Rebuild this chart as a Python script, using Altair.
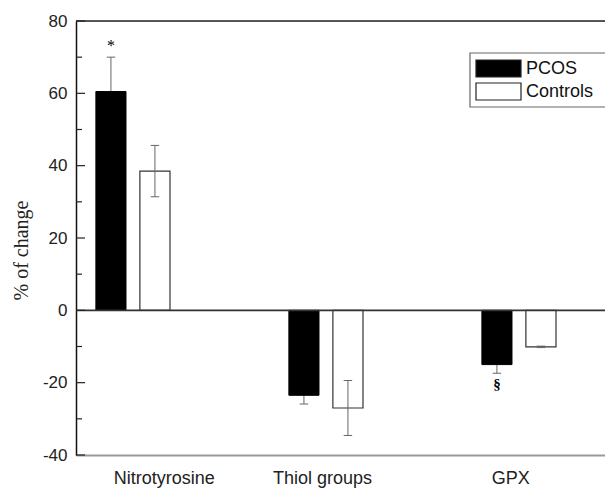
import altair as alt
import pandas as pd

CATEGORIES = ["Nitrotyrosine", "Thiol groups", "GPX"]
SERIES = ["PCOS", "Controls"]
PCOS_VALUES = [60.5, -23.5, -15.0]
PCOS_ERR = [9.5, 2.4, 2.4]
CONTROL_VALUES = [38.5, -27.0, -10.1]
CONTROL_ERR = [7.1, 7.6, 0.2]
PCOS_MARKS = ["*", "", "§"]
Y_TICKS = list(range(-40, 81, 10))
Y_LABELS = list(range(-40, 81, 20))
LABEL_SHIFT = [0.16, -0.02, -0.045]

W, H = 529, 434
BAR_OFF = 0.114
BAR_HALF = 0.078
CAP_HALF = 0.022

rows = []
for i, cat in enumerate(CATEGORIES):
    for s, vals, errs, off in [("PCOS", PCOS_VALUES, PCOS_ERR, -BAR_OFF),
                               ("Controls", CONTROL_VALUES, CONTROL_ERR, BAR_OFF)]:
        c = i + 1 + off
        v = vals[i]
        e = errs[i]
        rows.append(dict(category=cat, series=s, value=v, err=e,
                         center=c, left=c - BAR_HALF, right=c + BAR_HALF,
                         capl=c - CAP_HALF, capr=c + CAP_HALF,
                         lo=v - e, hi=v + e,
                         mark=PCOS_MARKS[i] if s == "PCOS" else ""))
df = pd.DataFrame(rows)

label_pos = [i + 1 + LABEL_SHIFT[i] for i in range(len(CATEGORIES))]
label_map = "{" + ",".join(f"'{p:.3f}':'{c}'" for p, c in zip(label_pos, CATEGORIES)) + "}"

xscale = alt.Scale(domain=[0.705, 0.705 + W / 193.0], nice=False, zero=False)
yscale = alt.Scale(domain=[-40, 80], nice=False)

x_axis = alt.Axis(values=label_pos, labelExpr=f"{label_map}[format(datum.value, '.3f')]",
                  ticks=False, grid=False, domainColor="#999999", domainWidth=2,
                  labelFont="Liberation Sans", labelFontSize=18, labelColor="#222222",
                  labelPadding=14, title=None, labelOverlap=False, labelFlush=False)
y_axis = alt.Axis(values=Y_LABELS, labelExpr="'' + datum.value", ticks=False, grid=False,
                  domainColor="#111111", domainWidth=1.5, labelFont="Liberation Sans",
                  labelFontSize=17, labelColor="#222222", labelPadding=9, title="% of change",
                  titleFont="Liberation Serif", titleFontSize=20, titleFontWeight="normal",
                  titleColor="#222222", titlePadding=11, titleY=229)

base = alt.Chart(df)

bars_ctrl = base.transform_filter("datum.series == 'Controls'").mark_rect(
    fill="white", stroke="#333333", strokeWidth=1.2).encode(
    x=alt.X("left:Q", scale=xscale, axis=x_axis),
    x2="right:Q",
    y=alt.Y("value:Q", scale=yscale, axis=y_axis),
    y2=alt.datum(0),
)
bars_pcos = base.transform_filter("datum.series == 'PCOS'").mark_rect(
    fill="black", stroke="black", strokeWidth=1).encode(
    x=alt.X("left:Q", scale=xscale),
    x2="right:Q",
    y=alt.Y("value:Q", scale=yscale),
    y2=alt.datum(0),
)
err_v = base.mark_rule(color="#666666", strokeWidth=1).encode(
    x=alt.X("center:Q", scale=xscale), y=alt.Y("lo:Q", scale=yscale), y2="hi:Q")
cap_lo = base.mark_rule(color="#666666", strokeWidth=1).encode(
    x=alt.X("capl:Q", scale=xscale), x2="capr:Q", y=alt.Y("lo:Q", scale=yscale))
cap_hi = base.mark_rule(color="#666666", strokeWidth=1).encode(
    x=alt.X("capl:Q", scale=xscale), x2="capr:Q", y=alt.Y("hi:Q", scale=yscale))

star = base.transform_filter("datum.mark != '' && datum.value > 0").mark_text(
    font="Liberation Serif", fontSize=16, baseline="bottom", dy=-3, color="black").encode(
    x=alt.X("center:Q", scale=xscale), y=alt.Y("hi:Q", scale=yscale), text="mark:N")
sect = base.transform_filter("datum.mark != '' && datum.value < 0").mark_text(
    font="Liberation Serif", fontSize=15, fontWeight="bold", baseline="top", dy=4, color="black").encode(
    x=alt.X("center:Q", scale=xscale), y=alt.Y("lo:Q", scale=yscale), text="mark:N")

zero = alt.Chart(pd.DataFrame({"z": [0]})).mark_rule(color="#333333", strokeWidth=1.6).encode(
    y=alt.Y("z:Q", scale=yscale), x=alt.value(0), x2=alt.value(W))
top_line = alt.Chart(pd.DataFrame({"z": [80]})).mark_rule(color="#222222", strokeWidth=1.5).encode(
    y=alt.Y("z:Q", scale=yscale), x=alt.value(0), x2=alt.value(W))

ticks_df = pd.DataFrame({"t": Y_TICKS})
major = alt.Chart(ticks_df).transform_filter("datum.t % 20 == 0").mark_rule(
    color="#222222", strokeWidth=1.2).encode(
    y=alt.Y("t:Q", scale=yscale), x=alt.value(0), x2=alt.value(9))
minor = alt.Chart(ticks_df).transform_filter("datum.t % 20 != 0").mark_rule(
    color="#222222", strokeWidth=1.2).encode(
    y=alt.Y("t:Q", scale=yscale), x=alt.value(0), x2=alt.value(6))

# legend (drawn as marks)
LX, LY, LW, LH = 394, 32, 136, 54
legend_layers = [
    alt.Chart(pd.DataFrame({"a": [0]})).mark_rect(fill="white", stroke="#666666", strokeWidth=1.2).encode(
        x=alt.value(LX), x2=alt.value(LX + LW), y=alt.value(LY), y2=alt.value(LY + LH))
]
fills = {"PCOS": "black", "Controls": "white"}
for k, s in enumerate(SERIES):
    ry = LY + 7 + k * 23
    legend_layers.append(
        alt.Chart(pd.DataFrame({"s": [s]})).mark_rect(fill=fills[s], stroke="#222222", strokeWidth=1.2).encode(
            x=alt.value(LX + 6), x2=alt.value(LX + 51), y=alt.value(ry), y2=alt.value(ry + 17)))
    legend_layers.append(
        alt.Chart(pd.DataFrame({"s": [s]})).mark_text(
            font="Liberation Sans", fontSize=18, align="left", baseline="middle", color="#111111").encode(
            x=alt.value(LX + 56), y=alt.value(ry + 9), text="s:N"))

chart = alt.layer(
    bars_ctrl, err_v, cap_lo, cap_hi, bars_pcos, star, sect, zero, top_line, major, minor,
    *legend_layers
).properties(
    width=W, height=H,
    padding={"left": 68, "top": 13, "right": 0, "bottom": 33},
    autosize=alt.AutoSizeParams(type="none"),
).configure_view(stroke=None).configure(background="white")

chart.save("out.html", embed_options={"renderer": "svg", "actions": False})
